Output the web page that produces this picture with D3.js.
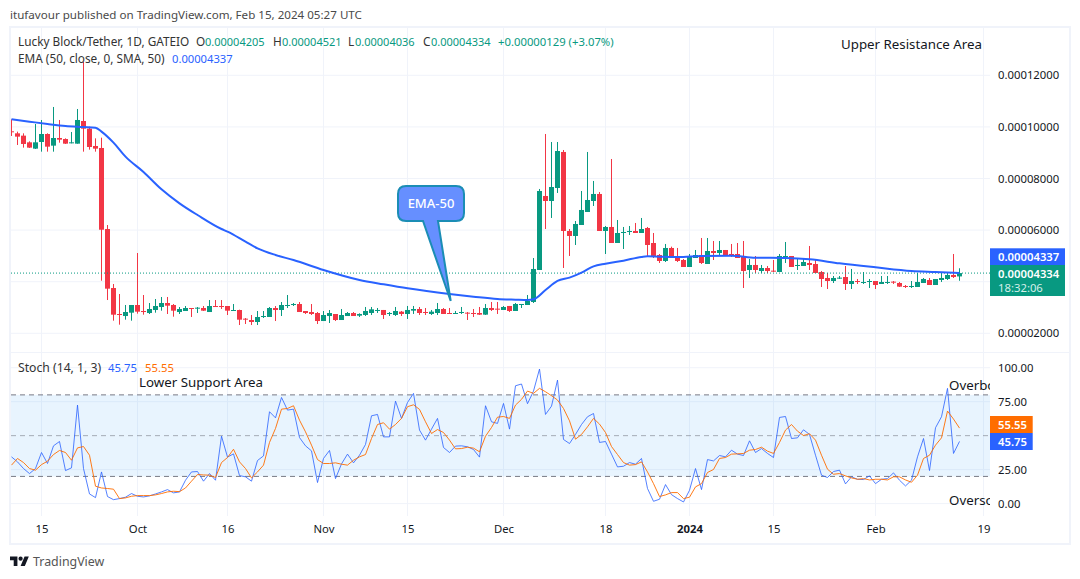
<!DOCTYPE html>
<html>
<head>
<meta charset="utf-8">
<script src="https://cdn.jsdelivr.net/npm/d3@7"></script>
<style>
  html, body { margin: 0; padding: 0; background: #fff; }
  svg { display: block; }
  text { font-family: "Noto Sans", sans-serif; }
</style>
</head>
<body>
<div id="chart"></div>
<script>
// prices are in units of 0.00000001 USDT, one entry per day from 10 Sep 2023
const opens = [
  9829,9751,9661,9402,9157,9415,9725,9273,9570,9531,
  9376,9350,10229,9932,9260,9183,6042,3755,2748,2670,
  2799,3097,2864,2786,2903,3019,3174,3097,2825,2864,
  2980,2967,2980,2825,3058,3058,3058,2877,2903,2567,
  2515,2438,2632,2632,2980,2903,3071,3097,3135,2864,
  2825,2786,2476,2670,2748,2515,2670,2786,2684,2710,
  2787,2865,2904,2749,2710,2839,2749,2878,2942,2826,
  2749,2787,2942,2787,2762,2787,2800,2787,2787,2723,
  2981,2955,2904,3059,2865,3110,3097,3214,4454,7322,
  7128,7632,9028,5966,5772,6198,6702,7128,7400,5966,
  6121,5500,5888,5927,5966,5888,6082,5500,5035,4803,
  5307,4996,4841,4570,4919,5035,4686,5190,5113,5229,
  5074,5074,4996,4454,4648,4415,4531,4428,4376,4958,
  4996,4609,4609,4725,4686,4376,4144,4027,4118,4182,
  3911,4027,3963,3989,4027,3911,3963,4002,3950,3834,
  3795,3795,3950,4066,3872,4066,4105,4260,4205];
const highs = [
  10294,9816,9751,9441,10113,10268,9751,10772,10268,9557,
  9803,10694,12516,10010,9557,9583,6197,3911,3523,3097,
  3097,5112,3484,3174,3329,3407,3407,3135,3019,3058,
  2980,3019,3058,3290,3290,3290,3058,3135,2916,2593,
  2709,2864,2864,3019,3058,3213,3484,3174,3213,2864,
  3135,2825,2864,2903,2748,2942,2825,2825,2774,3020,
  3020,2981,2904,2826,3020,2865,3059,3059,3020,2981,
  2904,3175,2981,2981,2865,3020,2826,2942,3020,3136,
  3214,3214,3059,3059,3175,3136,3485,4919,7594,9725,
  9415,9415,9105,6043,6353,7516,9028,7904,7477,6159,
  8756,6392,6121,6159,6276,6470,6121,5888,5074,5462,
  5358,5307,4880,5074,5229,5694,5694,5578,5578,5229,
  5462,5500,5578,4880,4996,4648,4609,4841,5074,5539,
  4996,4919,4919,5384,4841,4415,4338,4221,4221,4609,
  4493,4105,4376,4105,4027,4221,4221,4027,3989,3872,
  4027,4338,4144,4144,4105,4338,4338,5074,4521];
const lows = [
  9648,9299,9196,9183,9144,9040,9040,9040,9389,9338,
  9363,9350,9040,9118,9040,4039,3290,2489,2334,2528,
  2489,2761,2722,2748,2799,2877,2748,2644,2748,2864,
  2632,2786,2864,2825,3019,2942,2709,2877,2321,2360,
  2321,2321,2593,2632,2476,2670,2980,3058,2825,2748,
  2709,2360,2476,2399,2476,2515,2670,2670,2632,2671,
  2710,2787,2555,2671,2671,2671,2555,2749,2710,2710,
  2710,2710,2749,2749,2749,2749,2516,2632,2710,2710,
  2865,2749,2904,2826,2865,2981,3097,3175,4454,6043,
  6470,7439,4532,4997,5423,6198,6702,6935,5966,5074,
  5500,5500,5268,5811,5888,5888,4997,4919,4725,4764,
  4919,4764,4570,4570,4919,4686,4686,4841,4996,4996,
  4958,4919,3756,4144,4338,4338,4338,4376,4376,4725,
  4570,4454,4609,4454,4338,3795,3717,3950,4105,3679,
  3717,3911,3911,3756,3717,3911,3911,3911,3795,3756,
  3756,3795,3950,3872,3872,3989,4066,4144,4036];
const closes = [
  9803,9622,9338,9196,9402,9725,9234,9570,9506,9350,
  9402,10268,9932,9221,9157,6015,3730,2722,2722,2825,
  3097,2838,2825,2942,3058,3174,3071,2877,2942,2980,
  2955,2993,2877,3058,3019,3019,2877,2903,2528,2528,
  2438,2632,2670,2980,2903,3097,3097,3135,2825,2786,
  2748,2476,2709,2786,2515,2709,2786,2670,2749,2865,
  2929,2904,2710,2787,2865,2749,2904,2942,2787,2787,
  2839,2942,2749,2762,2787,2826,2774,2762,2723,2981,
  2904,2929,3020,2865,3136,3136,3252,4493,7516,7128,
  7671,9066,5966,5772,6237,6780,7167,7400,5966,6121,
  5500,5888,5927,5966,5888,6043,5423,4958,4803,5307,
  4958,4803,4570,4958,5035,4725,5190,5113,5229,5035,
  5035,4919,4415,4648,4454,4531,4415,4389,4996,4996,
  4570,4648,4764,4648,4338,4105,4027,4144,4157,3911,
  4027,3989,3989,4027,3872,3989,3989,3963,3808,3795,
  3834,3989,4105,3872,4105,4144,4260,4182,4334];

// EMA read at these day numbers (0 = 10 Sep 2023)
const emaDays = [0,3,6,9,12,14,15,17,19,22,25,28,31,35,36,39,41,44,47,52,58,62,66,73,77,81,84,86,87,89,91,93,95,97,99,102,105,106,108,111,115,120,124,129,133,138,144,150,154,158];
const emaValues = [10294,10203,10113,10035,9997,9971,9816,9389,8847,8252,7580,7037,6585,6042,5939,5551,5293,5035,4841,4453,4066,3899,3743,3524,3420,3330,3304,3291,3317,3679,4028,4157,4351,4596,4699,4816,4958,4984,4971,4958,4996,5009,4932,4919,4867,4712,4557,4415,4376,4337];

const stochK = [
  34.4,30.7,25.8,22.1,25.8,37.6,29.5,42.5,45.7,24.3,
  26.3,72.5,25.8,7.1,4.4,23.3,5.2,2.9,3.7,4.7,
  7.4,5.4,4.9,5.7,7.1,8.6,10.3,7.9,8.6,17.2,
  23.3,23.6,16.5,22.1,17.2,49.6,34.2,36.6,20.6,19.7,
  16.5,31.7,35.1,67.6,63.1,78.1,68.8,69.5,48.6,42.5,
  38.8,15.5,33.2,39.1,18.4,29.2,36.4,30,35.6,
  43.5,64.6,65.6,49.1,49.1,75.4,62.7,74.4,81.1,54.1,
  46.7,54.8,62.7,41.3,37.6,42.3,42.5,41.8,39.8,34.2,
  72,60.2,59,73.7,54.8,86.7,88,73.5,82.8,99,
  65.6,71.7,90.9,47.2,44.2,50.9,58.2,63.9,66.3,45,
  45.7,36.4,27,27.5,30.2,29,33.2,11.1,1.7,3.2,
  14,6.6,3.7,1.2,9.8,25.8,10.3,32.4,
  31.4,35.4,34.4,39.3,36.4,35.4,46.2,37.6,40.5,36.9,
  33.9,63.4,64.1,47.9,48.4,54.3,50.9,35.6,20.9,19.2,
  23.6,24.6,14.5,19.7,17.9,17.7,20.4,14.7,17.9,18.4,
  22.6,17.2,13,17.2,34.4,47.9,24.3,55.8,63.9,84.8,36.9,45.75];
const stochD = [
  28.3,33.2,30.2,25.8,24.6,28.7,31.2,36.1,39.1,37.6,
  31.9,41,42,35.6,12.8,11.5,11.1,10.6,3.7,4.2,
  5.4,5.9,5.9,5.9,6.4,7.4,8.6,9.1,8.8,11.5,
  16.5,21.4,21.1,20.9,19.2,30.2,33.9,40,30.7,25.8,
  18.9,23.3,28.3,45,55.3,69.5,70,72,61.4,52.8,
  43,32.4,29.5,29.5,30,29,28.3,31.9,34.4,
  36.1,47.9,58.2,59.5,54.8,58.2,62.7,71.3,72.7,69.3,
  60.2,51.6,54.5,52.3,46.7,40.3,40.5,41.5,40.8,38.1,
  49.6,56,63.6,64.1,62.7,72.5,76.7,82.8,81.1,84.8,
  82.3,79.4,76.2,70,60.9,47.4,50.9,56.5,62.7,58.5,
  52.3,42,36.1,30.2,28.3,28.7,30.7,23.3,14.7,5.2,
  6.4,8.1,8.1,3.7,4.7,12.3,14.7,22.9,
  25.1,33.2,33.9,36.4,36.6,36.9,39.3,39.8,41.5,38.6,
  36.9,45,54.1,58.2,53.3,50.1,51.4,46.7,35.6,25.3,
  21.6,22.1,20.4,18.9,17.9,18.4,17.4,17.9,17.9,17.4,
  19.7,19.7,17.4,15.7,20.9,33.2,35.6,43,48.4,68.1,62.2,55.55];

const priceTicks = [2000, 6000, 8000, 10000, 12000];
const stochTicks = [0, 25, 75, 100];
const stochLevels = [20, 50, 80];
const timeTickDates = ["2023-09-15","2023-10-01","2023-10-16","2023-11-01","2023-11-15","2023-12-01","2023-12-18","2024-01-01","2024-01-15","2024-02-01","2024-02-19"];
const timeTickLabels = ["15","Oct","16","Nov","15","Dec","18","2024","15","Feb","19"];

const GREEN = "#089981", RED = "#f23645", BLUE = "#2962ff", ORANGE = "#ff6d00";
const GRID = "#f0f3fa", TEXT = "#131722";

const width = 1080, height = 579;
const plotLeft = 11, plotRight = 990, plotTop = 28, mainBottom = 352, stochTop = 353, plotBottom = 516;

const svg = d3.select("#chart").append("svg").attr("width", width).attr("height", height);

const firstDay = new Date(Date.UTC(2023, 8, 10));
const dayOf = function(i) { return d3.utcDay.offset(firstDay, i); };

const x = d3.scaleUtc()
  .domain([new Date(Date.UTC(2023, 8, 15)), new Date(Date.UTC(2024, 1, 19))])
  .range([41.5, 983.5]);
const y = d3.scaleLinear().domain([2000, 12000]).range([333.3, 75.3]);
const yStoch = d3.scaleLinear().domain([0, 100]).range([503.6, 367.7]);

const defs = svg.append("defs");
defs.append("clipPath").attr("id", "mainClip").append("rect")
  .attr("x", plotLeft).attr("y", plotTop).attr("width", plotRight - plotLeft).attr("height", mainBottom - plotTop);
defs.append("clipPath").attr("id", "stochClip").append("rect")
  .attr("x", plotLeft).attr("y", stochTop).attr("width", plotRight - plotLeft).attr("height", plotBottom - stochTop);

// header
svg.append("text").attr("x", 10).attr("y", 19).attr("font-size", 11.6).attr("fill", "#4a4a4a")
  .text("itufavour published on TradingView.com, Feb 15, 2024 05:27 UTC");

// frame
svg.append("rect").attr("x", 10).attr("y", 27).attr("width", 1060).attr("height", 517)
  .attr("fill", "none").attr("stroke", GRID).attr("stroke-width", 2);

// grid
const timeTicks = timeTickDates.map(function(d) { return new Date(d + "T00:00:00Z"); });
const grid = svg.append("g").attr("stroke", GRID).attr("stroke-width", 1);
grid.selectAll("line.v").data(timeTicks).enter().append("line")
  .attr("x1", function(d) { return x(d); }).attr("x2", function(d) { return x(d); })
  .attr("y1", plotTop).attr("y2", plotBottom);
grid.selectAll("line.h").data(priceTicks.concat([4000])).enter().append("line")
  .attr("x1", plotLeft).attr("x2", plotRight)
  .attr("y1", function(d) { return y(d); }).attr("y2", function(d) { return y(d); });
grid.selectAll("line.s").data(stochTicks).enter().append("line")
  .attr("x1", plotLeft).attr("x2", plotRight)
  .attr("y1", function(d) { return yStoch(d); }).attr("y2", function(d) { return yStoch(d); });

// pane separator
svg.append("line").attr("x1", plotLeft).attr("x2", 1069).attr("y1", 352.5).attr("y2", 352.5)
  .attr("stroke", GRID).attr("stroke-width", 1);

// candles
const main = svg.append("g").attr("clip-path", "url(#mainClip)");
const candles = main.selectAll("g.candle").data(d3.range(opens.length)).enter().append("g");
candles.append("line")
  .attr("x1", function(i) { return x(dayOf(i)); }).attr("x2", function(i) { return x(dayOf(i)); })
  .attr("y1", function(i) { return y(highs[i]); }).attr("y2", function(i) { return y(lows[i]); })
  .attr("stroke", function(i) { return closes[i] >= opens[i] ? GREEN : RED; });
candles.append("rect")
  .attr("x", function(i) { return x(dayOf(i)) - 2.5; }).attr("width", 5)
  .attr("y", function(i) { return y(Math.max(opens[i], closes[i])); })
  .attr("height", function(i) { return Math.max(1, Math.abs(y(opens[i]) - y(closes[i]))); })
  .attr("fill", function(i) { return closes[i] >= opens[i] ? GREEN : RED; });

// last price line
const lastClose = closes[closes.length - 1];
main.append("line").attr("x1", plotLeft).attr("x2", plotRight)
  .attr("y1", y(lastClose)).attr("y2", y(lastClose))
  .attr("stroke", GREEN).attr("stroke-width", 1).attr("stroke-dasharray", "1 2");

// EMA
const emaLine = d3.line()
  .x(function(d, i) { return x(dayOf(emaDays[i])); })
  .y(function(d) { return y(d); })
  .curve(d3.curveMonotoneX);
main.append("path").attr("d", emaLine(emaValues))
  .attr("fill", "none").attr("stroke", BLUE).attr("stroke-width", 2);

// EMA-50 callout
const callout = svg.append("g");
callout.append("path")
  .attr("d", "M406 186H456Q464 186 464 194V213Q464 221 456 221H438L450.7 301L423 221H406Q398 221 398 213V194Q398 186 406 186Z")
  .attr("fill", "#668fff").attr("stroke", "#1b8db5").attr("stroke-width", 2);
callout.append("text").attr("x", 431).attr("y", 208).attr("text-anchor", "middle")
  .attr("font-size", 13).attr("font-weight", 500).attr("fill", "#fff").text("EMA-50");

svg.append("text").attr("x", 841).attr("y", 49).attr("font-size", 13.3).attr("fill", TEXT).text("Upper Resistance Area");

// stochastic pane
const stoch = svg.append("g").attr("clip-path", "url(#stochClip)");
stoch.append("rect").attr("x", plotLeft).attr("width", plotRight - plotLeft)
  .attr("y", yStoch(80)).attr("height", yStoch(20) - yStoch(80))
  .attr("fill", "#2196f3").attr("fill-opacity", 0.1);
stoch.selectAll("line.level").data(stochLevels).enter().append("line")
  .attr("x1", plotLeft).attr("x2", plotRight)
  .attr("y1", function(d) { return yStoch(d); }).attr("y2", function(d) { return yStoch(d); })
  .attr("stroke", "#787b86").attr("stroke-dasharray", "5 4")
  .attr("stroke-opacity", function(d) { return d === 50 ? 0.6 : 1; });

const stochLine = d3.line()
  .x(function(d, i) { return x(dayOf(i)); })
  .y(function(d) { return yStoch(d); });
stoch.append("path").attr("d", stochLine(stochK)).attr("fill", "none").attr("stroke", BLUE).attr("stroke-width", 1).attr("opacity", 0.8);
stoch.append("path").attr("d", stochLine(stochD)).attr("fill", "none").attr("stroke", ORANGE).attr("stroke-width", 1).attr("opacity", 0.9);

svg.append("text").attr("x", 139).attr("y", 387).attr("font-size", 13.3).attr("fill", TEXT).text("Lower Support Area");
// these two run off the pane in the original, only this much of them shows
stoch.append("text").attr("x", 949).attr("y", 390).attr("font-size", 13.3).attr("fill", TEXT).text("Overbo");
stoch.append("text").attr("x", 949).attr("y", 505).attr("font-size", 13.3).attr("fill", TEXT).text("Overso");

// axes
const fmtPrice = function(d) { return (d * 1e-8).toFixed(8); };
const priceAxis = d3.axisRight(y).tickValues(priceTicks).tickFormat(fmtPrice).tickSize(0).tickPadding(8);
const stochAxis = d3.axisRight(yStoch).tickValues(stochTicks).tickFormat(d3.format(".2f")).tickSize(0).tickPadding(8);
const timeAxis = d3.axisBottom(x).tickValues(timeTicks)
  .tickFormat(function(d, i) { return timeTickLabels[i]; }).tickSize(0).tickPadding(9);
[
  svg.append("g").attr("transform", "translate(" + plotRight + ",0)").call(priceAxis),
  svg.append("g").attr("transform", "translate(" + plotRight + ",0)").call(stochAxis),
  svg.append("g").attr("transform", "translate(0," + plotBottom + ")").call(timeAxis)
].forEach(function(g) {
  g.select(".domain").remove();
  g.selectAll("text").attr("font-size", 11.3).attr("font-family", '"Noto Sans", sans-serif').attr("fill", TEXT);
});
svg.selectAll("g.tick text").filter(function() { return d3.select(this).text() === "2024"; }).attr("font-weight", 700);

// price tags
function tag(x0, y0, w, h, fill) {
  svg.append("rect").attr("x", x0).attr("y", y0).attr("width", w).attr("height", h).attr("fill", fill);
}
function tagText(x0, y0, str, fill, weight) {
  svg.append("text").attr("x", x0).attr("y", y0).attr("font-size", 11.3).attr("fill", fill)
    .attr("font-weight", weight || 400).text(str);
}
tag(990, 248.3, 75, 16.7, BLUE);
tag(990, 265, 75, 31, GREEN);
tagText(998, 261, fmtPrice(emaValues[emaValues.length - 1]), "#fff", 600);
tagText(998, 277.5, fmtPrice(lastClose), "#fff", 600);
tagText(998, 292, "18:32:06", "#d5efe9");
tag(990, 416, 42.7, 17, ORANGE);
tag(990, 433, 42.7, 17, BLUE);
tagText(998, 429, stochD[stochD.length - 1].toFixed(2), "#fff", 600);
tagText(998, 446, stochK[stochK.length - 1].toFixed(2), "#fff", 600);

// legends
function legendText(x0, y0, str, fill, size) {
  svg.append("text").attr("x", x0).attr("y", y0).attr("font-size", size || 11).attr("fill", fill).text(str);
}
legendText(18, 46, "Lucky Block/Tether, 1D, GATEIO", "#333", 11.8);
[["O", opens, 196, 9], ["H", highs, 273, 9], ["L", lows, 348, 7], ["C", closes, 423, 8]].forEach(function(o) {
  legendText(o[2], 46, o[0], "#333", 11.8);
  legendText(o[2] + o[3], 46, fmtPrice(o[1][o[1].length - 1]), GREEN);
});
legendText(498, 46, "+0.00000129 (+3.07%)", GREEN, 11.3);
legendText(18, 63, "EMA (50, close, 0, SMA, 50)", "#333", 11.8);
legendText(172, 63, fmtPrice(emaValues[emaValues.length - 1]), BLUE, 11.2);
legendText(18, 372, "Stoch (14, 1, 3)", "#333", 12.2);
legendText(108, 372, stochK[stochK.length - 1].toFixed(2), BLUE, 11.3);
legendText(145, 372, stochD[stochD.length - 1].toFixed(2), ORANGE, 11.3);

// TradingView logo
const logo = svg.append("g").attr("transform", "translate(10,554.4) scale(0.53)").attr("fill", "#131722");
logo.append("path").attr("d", "M14 22H7V11H0V4h14v18zM28 22h-8l7.5-18h8L28 22z");
logo.append("circle").attr("cx", 20).attr("cy", 8).attr("r", 4);
svg.append("text").attr("x", 33).attr("y", 566).attr("font-size", 12.4).attr("fill", "#555").text("TradingView");
</script>
</body>
</html>
